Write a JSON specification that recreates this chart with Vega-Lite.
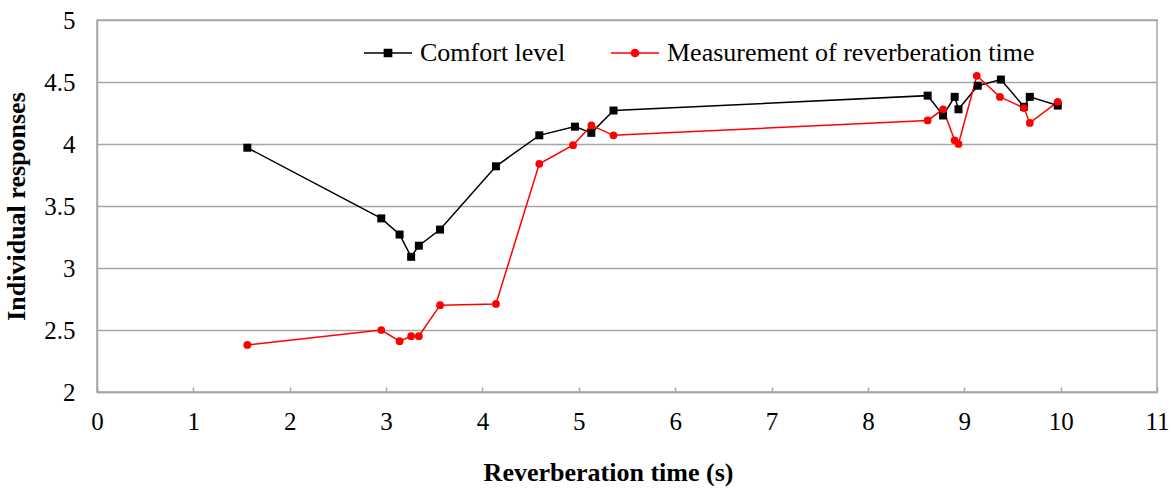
{
  "$schema": "https://vega.github.io/schema/vega-lite/v6.json",
  "autosize": "none",
  "width": 1060,
  "height": 372,
  "padding": {"left": 97, "top": 20, "right": 16, "bottom": 98},
  "background": "white",
  "config": {
    "view": {"stroke": "#a6a6a6", "strokeWidth": 1.5},
    "axis": {
      "labelFont": "Liberation Serif",
      "labelFontSize": 25,
      "labelColor": "#000000",
      "titleFont": "Liberation Serif",
      "titleFontSize": 26,
      "titleFontWeight": "bold",
      "titleColor": "#000000",
      "domainColor": "#a6a6a6",
      "domainWidth": 1.5,
      "gridColor": "#a6a6a6",
      "gridWidth": 1.5,
      "labelFlush": false,
      "labelOverlap": false,
      "labelBound": false
    }
  },
  "data": {
    "values": [
      {"t": 1.56, "series": "Comfort level", "v": 3.97},
      {"t": 2.95, "series": "Comfort level", "v": 3.40},
      {"t": 3.14, "series": "Comfort level", "v": 3.27},
      {"t": 3.26, "series": "Comfort level", "v": 3.09},
      {"t": 3.34, "series": "Comfort level", "v": 3.18},
      {"t": 3.56, "series": "Comfort level", "v": 3.31},
      {"t": 4.14, "series": "Comfort level", "v": 3.82},
      {"t": 4.59, "series": "Comfort level", "v": 4.07},
      {"t": 4.96, "series": "Comfort level", "v": 4.14},
      {"t": 5.13, "series": "Comfort level", "v": 4.09},
      {"t": 5.36, "series": "Comfort level", "v": 4.27},
      {"t": 8.62, "series": "Comfort level", "v": 4.39},
      {"t": 8.78, "series": "Comfort level", "v": 4.23},
      {"t": 8.90, "series": "Comfort level", "v": 4.38},
      {"t": 8.94, "series": "Comfort level", "v": 4.28},
      {"t": 9.14, "series": "Comfort level", "v": 4.47},
      {"t": 9.38, "series": "Comfort level", "v": 4.52},
      {"t": 9.62, "series": "Comfort level", "v": 4.30},
      {"t": 9.68, "series": "Comfort level", "v": 4.38},
      {"t": 9.97, "series": "Comfort level", "v": 4.31},
      {"t": 1.56, "series": "Measurement of reverberation time", "v": 2.38},
      {"t": 2.95, "series": "Measurement of reverberation time", "v": 2.50},
      {"t": 3.14, "series": "Measurement of reverberation time", "v": 2.41},
      {"t": 3.26, "series": "Measurement of reverberation time", "v": 2.45},
      {"t": 3.34, "series": "Measurement of reverberation time", "v": 2.45},
      {"t": 3.56, "series": "Measurement of reverberation time", "v": 2.70},
      {"t": 4.14, "series": "Measurement of reverberation time", "v": 2.71},
      {"t": 4.59, "series": "Measurement of reverberation time", "v": 3.84},
      {"t": 4.94, "series": "Measurement of reverberation time", "v": 3.99},
      {"t": 5.13, "series": "Measurement of reverberation time", "v": 4.15},
      {"t": 5.36, "series": "Measurement of reverberation time", "v": 4.07},
      {"t": 8.62, "series": "Measurement of reverberation time", "v": 4.19},
      {"t": 8.78, "series": "Measurement of reverberation time", "v": 4.28},
      {"t": 8.90, "series": "Measurement of reverberation time", "v": 4.03},
      {"t": 8.94, "series": "Measurement of reverberation time", "v": 4.00},
      {"t": 9.13, "series": "Measurement of reverberation time", "v": 4.55},
      {"t": 9.37, "series": "Measurement of reverberation time", "v": 4.38},
      {"t": 9.62, "series": "Measurement of reverberation time", "v": 4.29},
      {"t": 9.68, "series": "Measurement of reverberation time", "v": 4.17},
      {"t": 9.97, "series": "Measurement of reverberation time", "v": 4.34}
    ]
  },
  "encoding": {
    "x": {
      "field": "t",
      "type": "quantitative",
      "title": "Reverberation time (s)",
      "scale": {"domain": [0, 11], "nice": false, "zero": false},
      "axis": {
        "values": [0, 1, 2, 3, 4, 5, 6, 7, 8, 9, 10, 11],
        "grid": false,
        "ticks": true,
        "tickSize": -5,
        "tickColor": "#a6a6a6",
        "tickWidth": 1.5,
        "labelPadding": 22,
        "titlePadding": 25,
        "titleX": 511
      }
    },
    "y": {
      "field": "v",
      "type": "quantitative",
      "title": "Individual responses",
      "scale": {"domain": [2, 5], "nice": false, "zero": false},
      "axis": {
        "values": [2, 2.5, 3, 3.5, 4, 4.5, 5],
        "format": "~g",
        "grid": true,
        "ticks": false,
        "labelPadding": 22,
        "titlePadding": 14
      }
    },
    "color": {
      "field": "series",
      "type": "nominal",
      "scale": {
        "domain": ["Comfort level", "Measurement of reverberation time"],
        "range": ["#000000", "#ff0000"]
      }
    }
  },
  "layer": [
    {
      "mark": {"type": "line", "strokeWidth": 1.5},
      "encoding": {
        "color": {
          "field": "series",
          "type": "nominal",
          "legend": {
            "title": null,
            "orient": "none",
            "legendX": 266,
            "legendY": 8,
            "direction": "horizontal",
            "columnPadding": 42,
            "labelOffset": 7,
            "labelFont": "Liberation Serif",
            "labelFontSize": 26,
            "labelColor": "#000000",
            "labelLimit": 600,
            "symbolSize": 2304,
            "symbolStrokeWidth": 1.5,
            "padding": 0,
            "encode": {
              "symbols": {
                "update": {
                  "shape": {"signal": "datum.value === 'Comfort level' ? 'M-1,0H1M-0.15,-0.15H0.15V0.15H-0.15Z' : 'M-1,0H1M0.15,0A0.15,0.15,0,1,1,-0.15,0A0.15,0.15,0,1,1,0.15,0Z'"},
                  "fill": {"scale": "color", "field": "value"},
                  "stroke": {"scale": "color", "field": "value"},
                  "strokeWidth": {"value": 1.5}
                }
              }
            }
          }
        }
      }
    },
    {
      "transform": [{"filter": "datum.series === 'Comfort level'"}],
      "mark": {"type": "point", "filled": true, "opacity": 1, "size": 64, "shape": "square"},
      "encoding": {
        "color": {"field": "series", "type": "nominal", "legend": null}
      }
    },
    {
      "transform": [{"filter": "datum.series === 'Measurement of reverberation time'"}],
      "mark": {"type": "point", "filled": true, "opacity": 1, "size": 60, "shape": "circle"},
      "encoding": {
        "color": {"field": "series", "type": "nominal", "legend": null}
      }
    }
  ]
}
